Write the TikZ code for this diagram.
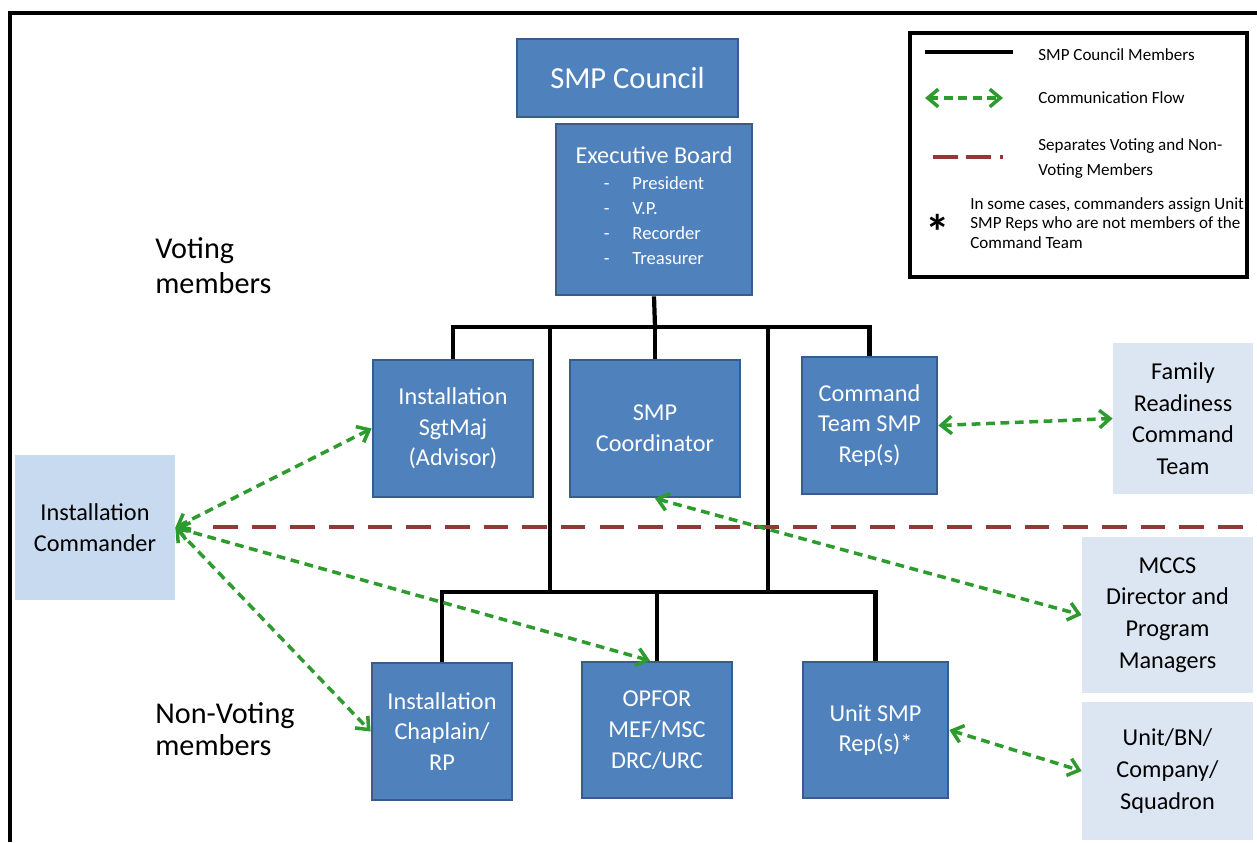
\documentclass[tikz,border=0pt]{standalone}
\usepackage{fontspec}
\setmainfont{Carlito}
\usetikzlibrary{arrows.meta,calc}

\definecolor{boxblue}{RGB}{79,129,189}
\definecolor{boxedge}{RGB}{56,93,138}
\definecolor{paleblue}{RGB}{220,230,242}
\definecolor{cmdblue}{RGB}{200,218,240}
\definecolor{flowgreen}{RGB}{46,155,46}
\definecolor{splitred}{RGB}{149,55,53}

\begin{document}
\begin{tikzpicture}[
    x=0.02cm, y=-0.02cm,
    box/.style={
        rectangle,
        draw=boxedge,
        line width=1.6pt,
        fill=boxblue,
        text=white,
        inner sep=0pt,
        align=center,
        font=\fontsize{13.8}{17.5}\selectfont
    },
    palebox/.style={
        rectangle,
        fill=paleblue,
        inner sep=0pt,
        align=center,
        font=\fontsize{13.8}{18}\selectfont
    },
    sidetext/.style={inner sep=0pt, align=left, anchor=west},
    keytext/.style={inner sep=0pt, align=left, anchor=west},
    member/.style={line width=2.4pt},
    flow/.style={
        {Straight Barb[length=6pt,width=10pt]}-{Straight Barb[length=6pt,width=10pt]},
        draw=flowgreen, line width=2pt, dash pattern=on 5pt off 3.2pt
    },
    divider/.style={draw=splitred, line width=2.8pt, dash pattern=on 14pt off 8pt}
]
\useasboundingbox (0,0) rectangle (1257,842);

% Frame
\coordinate (fbot) at (10,842);
\coordinate (fcorner) at (10,13);
\coordinate (fright) at (1257,13);
\draw[line width=1.9pt] (fbot) -- (fcorner) -- (fright);

% Nodes
\node[box, minimum width=4.42cm, minimum height=1.56cm,
      font=\fontsize{17.4}{21}\selectfont] (council) at (627.5,78) {SMP Council};
\node[box, minimum width=3.92cm, minimum height=3.42cm] (board) at (654,209.5)
    {Executive Board\\[4pt]
     \fontsize{10.6}{14.2}\selectfont
     \begin{tabular}{@{}l@{\hspace{13pt}}l@{}}
     - & President\\ - & V.P.\\ - & Recorder\\ - & Treasurer
     \end{tabular}};

\node[box, minimum width=3.2cm, minimum height=2.74cm] (sgtmaj) at (453,428.5)
    {Installation\\SgtMaj\\(Advisor)};
\node[box, minimum width=3.4cm, minimum height=2.74cm] (coord) at (655,428.5)
    {SMP\\Coordinator};
\node[box, minimum width=2.7cm, minimum height=2.74cm] (cmdteam) at (869.5,425.5)
    {Command\\Team SMP\\Rep(s)};

\node[box, minimum width=2.8cm, minimum height=2.74cm] (chaplain) at (442,731.5)
    {Installation\\Chaplain/\\RP};
\node[box, minimum width=3cm, minimum height=2.72cm] (opfor) at (657,730)
    {OPFOR\\MEF/MSC\\DRC/URC};
\node[box, minimum width=2.9cm, minimum height=2.72cm] (unitrep) at (875.5,730)
    {Unit SMP\\Rep(s)*};

\node[palebox, fill=cmdblue, minimum width=3.2cm, minimum height=2.9cm] (commander) at (95,527.5)
    {Installation\\Commander};
\node[palebox, minimum width=2.8cm, minimum height=3.02cm] (family) at (1183,418.5)
    {Family\\Readiness\\Command\\Team};
\node[palebox, minimum width=3.42cm, minimum height=3.12cm] (mccs) at (1167.5,615)
    {MCCS\\Director and\\Program\\Managers};
\node[palebox, minimum width=3.42cm, minimum height=2.76cm] (unitbn) at (1167.5,771)
    {Unit/BN/\\Company/\\Squadron};

\node[sidetext, font=\fontsize{17.2}{19.8}\selectfont] (voting) at (155,265.5)
    {Voting\\members};
\node[sidetext, font=\fontsize{17.2}{18.2}\selectfont] (nonvoting) at (155,729)
    {Non-Voting\\members};

% Legend
\node[draw, line width=2.2pt, minimum width=6.74cm, minimum height=4.88cm] (legend) at (1078.5,155) {};
\node[keytext, font=\fontsize{9.7}{11.5}\selectfont] (keymember) at (1038,55) {SMP Council Members};
\node[keytext, font=\fontsize{9.7}{11.5}\selectfont] (keyflow) at (1038,98) {Communication Flow};
\node[keytext, font=\fontsize{9.7}{14.2}\selectfont] (keysplit) at (1038,159)
    {Separates Voting and Non-\\Voting Members};
\node[inner sep=0pt, font=\fontsize{28}{28}\bfseries] (keystar) at (938,232) {*};
\node[keytext, font=\fontsize{9.7}{11.2}\selectfont] (keynote) at (970,223)
    {In some cases, commanders assign Unit\\SMP Reps who are not members of the\\Command Team};
\coordinate (kma) at (925,52);  \coordinate (kmb) at (1013,52);
\coordinate (kfa) at (925,98);  \coordinate (kfb) at (1003,98);
\coordinate (ksa) at (933,157); \coordinate (ksb) at (1003,157);
\draw[member] (kma) -- (kmb);
\draw[flow] (kfa) -- (kfb);
\draw[divider, dash pattern=on 14pt off 5pt] (ksa) -- (ksb);

% Member lines
\coordinate (upbar) at (655,327);
\coordinate (lowbar) at (657,592);
\coordinate (upL) at (550,327);  \coordinate (lowL) at (550,592);
\coordinate (upR) at (768,327);  \coordinate (lowR) at (768,592);
\draw[member] (board.south) -- (upbar);
\draw[member] (sgtmaj.north) |- (upbar) -| (cmdteam.north);
\draw[member] (upbar) -- (coord.north);
\draw[member] (upL) -- (lowL);
\draw[member] (upR) -- (lowR);
\draw[member] (chaplain.north) |- (lowbar) -| (unitrep.north);
\draw[member] (lowbar) -- (opfor.north);

% Divider
\coordinate (splitL) at (213,527);
\coordinate (splitR) at (1257,527);
\draw[divider] (splitL) -- (splitR);

% Arrows
\draw[flow] (commander.east) -- (sgtmaj.west);
\draw[flow] (commander.east) -- (chaplain.west);
\draw[flow] (commander.east) -- ($(opfor.north)+(-7,0)$);
\draw[flow] (coord.south) -- (mccs.west);
\draw[flow] (cmdteam.east) -- (family.west);
\draw[flow] (unitrep.east) -- (unitbn.west);

\end{tikzpicture}
\end{document}
